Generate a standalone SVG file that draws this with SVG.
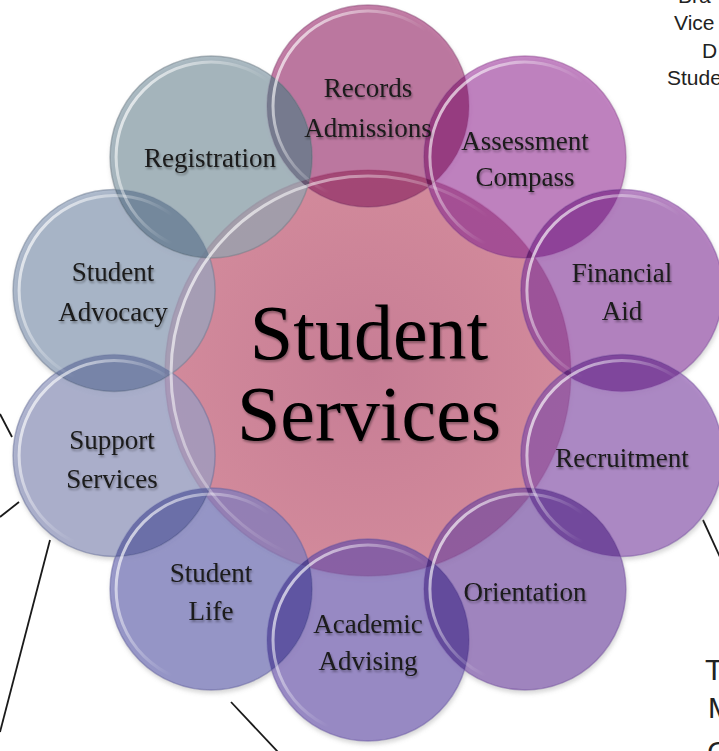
<svg xmlns="http://www.w3.org/2000/svg" width="719" height="751" viewBox="0 0 719 751">
<defs>
<style>
.s{fill-opacity:0.72;stroke-width:1.5;stroke-opacity:0.5}
.lens{mix-blend-mode:multiply;opacity:0.8}
.rim{fill:none;stroke:url(#rimg);stroke-width:3}
.lbl{font-family:"Liberation Serif","Times New Roman",serif;font-size:27px;fill:#1a1a1a;text-anchor:middle;filter:url(#ts)}
.big{font-family:"Liberation Serif","Times New Roman",serif;font-size:78px;fill:#000;text-anchor:middle;filter:url(#ts)}
.side{font-family:"Liberation Sans",Arial,sans-serif;font-size:21px;fill:#222}
.side2{font-family:"Liberation Sans",Arial,sans-serif;font-size:30px;fill:#222}
.ln{stroke:#1a1a1a;stroke-width:1.8;fill:none}
</style>
<linearGradient id="rimg" x1="0" y1="0.2" x2="1" y2="0.8">
<stop offset="0" stop-color="#fff" stop-opacity="0.75"/>
<stop offset="0.3" stop-color="#fff" stop-opacity="0.35"/>
<stop offset="0.55" stop-color="#fff" stop-opacity="0"/>
</linearGradient>
<radialGradient id="cg" cx="0.5" cy="0.5" r="0.5">
<stop offset="0" stop-color="#c77d95"/>
<stop offset="1" stop-color="#d28a9b"/>
</radialGradient>
<clipPath id="kc"><circle cx="368" cy="373" r="203"/></clipPath>
<clipPath id="k0"><circle cx="368" cy="106" r="101"/></clipPath>
<clipPath id="k1"><circle cx="524.9" cy="157" r="101"/></clipPath>
<clipPath id="k2"><circle cx="621.9" cy="290.5" r="101"/></clipPath>
<clipPath id="k3"><circle cx="621.9" cy="455.5" r="101"/></clipPath>
<clipPath id="k4"><circle cx="524.9" cy="589" r="101"/></clipPath>
<clipPath id="k5"><circle cx="368" cy="640" r="101"/></clipPath>
<clipPath id="k6"><circle cx="211.1" cy="589" r="101"/></clipPath>
<clipPath id="k7"><circle cx="114.1" cy="455.5" r="101"/></clipPath>
<clipPath id="k8"><circle cx="114.1" cy="290.5" r="101"/></clipPath>
<clipPath id="k9"><circle cx="211.1" cy="157" r="101"/></clipPath>
<filter id="ds" x="-10%" y="-10%" width="120%" height="120%">
<feDropShadow dx="1" dy="3" stdDeviation="2" flood-color="#888" flood-opacity="0.45"/>
</filter>
<filter id="ts" x="-10%" y="-20%" width="120%" height="150%">
<feDropShadow dx="1" dy="2" stdDeviation="1" flood-color="#000" flood-opacity="0.35"/>
</filter>
</defs>
<rect width="719" height="751" fill="#fff"/>

<g id="connectors">
<line class="ln" x1="0" y1="414" x2="12" y2="437"/>
<line class="ln" x1="0" y1="517" x2="19" y2="502"/>
<line class="ln" x1="50" y1="540" x2="0" y2="732"/>
<line class="ln" x1="231" y1="702" x2="278" y2="752"/>
<line class="ln" x1="703" y1="520" x2="720" y2="557"/>
</g>

<g id="circles" filter="url(#ds)">
<circle cx="368" cy="373" r="203" fill="url(#cg)" stroke="#a8607a" stroke-width="1.5" stroke-opacity="0.6"/>
<circle class="s" cx="368" cy="106" r="101" fill="#b04f89" stroke="#8e4a78"/>
<circle class="s" cx="524.9" cy="157" r="101" fill="#b35db3" stroke="#934e96"/>
<circle class="s" cx="621.9" cy="290.5" r="101" fill="#a25db3" stroke="#8450a0"/>
<circle class="s" cx="621.9" cy="455.5" r="101" fill="#9a68ba" stroke="#7c55a4"/>
<circle class="s" cx="524.9" cy="589" r="101" fill="#8962b3" stroke="#7552a0"/>
<circle class="s" cx="368" cy="640" r="101" fill="#7e6aba" stroke="#6a58a4"/>
<circle class="s" cx="211.1" cy="589" r="101" fill="#7b7bbe" stroke="#6462a0"/>
<circle class="s" cx="114.1" cy="455.5" r="101" fill="#979ec3" stroke="#68709a"/>
<circle class="s" cx="114.1" cy="290.5" r="101" fill="#94a5be" stroke="#6e7c92"/>
<circle class="s" cx="211.1" cy="157" r="101" fill="#90a5b0" stroke="#707e88"/>
<!-- neighbour overlaps -->
<circle class="lens" cx="524.9" cy="157" r="101" fill="#c680aa" clip-path="url(#k0)"/>
<circle class="lens" cx="621.9" cy="290.5" r="101" fill="#c88ac8" clip-path="url(#k1)"/>
<circle class="lens" cx="621.9" cy="455.5" r="101" fill="#bc8ac8" clip-path="url(#k2)"/>
<circle class="lens" cx="524.9" cy="589" r="101" fill="#b692cd" clip-path="url(#k3)"/>
<circle class="lens" cx="368" cy="640" r="101" fill="#aa8ec8" clip-path="url(#k4)"/>
<circle class="lens" cx="211.1" cy="589" r="101" fill="#a294cd" clip-path="url(#k5)"/>
<circle class="lens" cx="114.1" cy="455.5" r="101" fill="#a0a0d0" clip-path="url(#k6)"/>
<circle class="lens" cx="114.1" cy="290.5" r="101" fill="#b4b9d4" clip-path="url(#k7)"/>
<circle class="lens" cx="211.1" cy="157" r="101" fill="#b2bed0" clip-path="url(#k8)"/>
<circle class="lens" cx="368" cy="106" r="101" fill="#afbec6" clip-path="url(#k9)"/>
<!-- overlaps with the centre -->
<circle class="lens" cx="368" cy="106" r="101" fill="#d8aac4" clip-path="url(#kc)"/>
<circle class="lens" cx="524.9" cy="157" r="101" fill="#d8b0d4" clip-path="url(#kc)"/>
<circle class="lens" cx="621.9" cy="290.5" r="101" fill="#dcbcdc" clip-path="url(#kc)"/>
<circle class="lens" cx="621.9" cy="455.5" r="101" fill="#e2cae4" clip-path="url(#kc)"/>
<circle class="lens" cx="524.9" cy="589" r="101" fill="#e2cae4" clip-path="url(#kc)"/>
<circle class="lens" cx="368" cy="640" r="101" fill="#e4d0e8" clip-path="url(#kc)"/>
</g>

<g id="rims">
<circle class="rim" cx="368" cy="373" r="197"/>
<circle class="rim" cx="368" cy="106" r="95"/>
<circle class="rim" cx="524.9" cy="157" r="95"/>
<circle class="rim" cx="621.9" cy="290.5" r="95"/>
<circle class="rim" cx="621.9" cy="455.5" r="95"/>
<circle class="rim" cx="524.9" cy="589" r="95"/>
<circle class="rim" cx="368" cy="640" r="95"/>
<circle class="rim" cx="211.1" cy="589" r="95"/>
<circle class="rim" cx="114.1" cy="455.5" r="95"/>
<circle class="rim" cx="114.1" cy="290.5" r="95"/>
<circle class="rim" cx="211.1" cy="157" r="95"/>
</g>

<g id="node-center"><text class="big" x="369" y="359">Student</text><text class="big" x="369" y="440">Services</text></g>
<g id="node-records"><text class="lbl" x="368" y="97">Records</text><text class="lbl" x="368" y="137">Admissions</text></g>
<g id="node-assessment"><text class="lbl" x="525" y="150">Assessment</text><text class="lbl" x="525" y="186">Compass</text></g>
<g id="node-financial"><text class="lbl" x="622" y="282">Financial</text><text class="lbl" x="622" y="320">Aid</text></g>
<g id="node-recruitment"><text class="lbl" x="622" y="467">Recruitment</text></g>
<g id="node-orientation"><text class="lbl" x="525" y="601">Orientation</text></g>
<g id="node-academic"><text class="lbl" x="368" y="633">Academic</text><text class="lbl" x="368" y="670">Advising</text></g>
<g id="node-studentlife"><text class="lbl" x="211" y="582">Student</text><text class="lbl" x="211" y="620">Life</text></g>
<g id="node-support"><text class="lbl" x="112" y="449">Support</text><text class="lbl" x="112" y="488">Services</text></g>
<g id="node-advocacy"><text class="lbl" x="113" y="281">Student</text><text class="lbl" x="113" y="321">Advocacy</text></g>
<g id="node-registration"><text class="lbl" x="210" y="167">Registration</text></g>

<g id="side-text">
<text class="side" x="678" y="3">Bra</text>
<text class="side" x="674" y="30">Vice</text>
<text class="side" x="702" y="58">D</text>
<text class="side" x="667" y="85">Stude</text>
<text class="side2" x="705" y="680">T</text>
<text class="side2" x="708" y="718">M</text>
<text class="side2" x="707" y="762">C</text>
</g>
</svg>
